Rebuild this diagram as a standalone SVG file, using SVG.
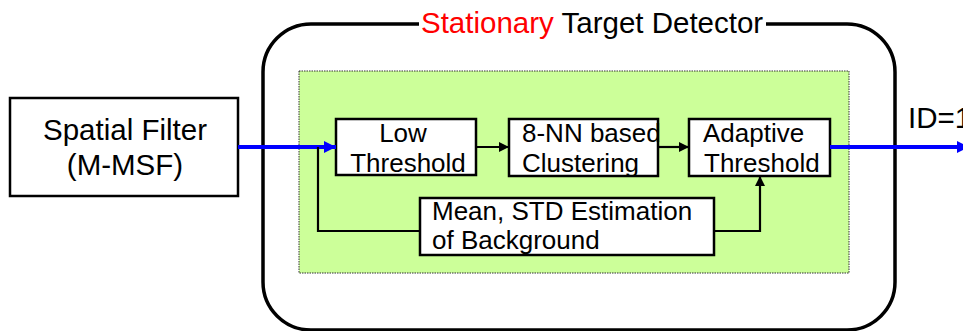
<svg xmlns="http://www.w3.org/2000/svg" width="963" height="331" viewBox="0 0 963 331">
<style>
  text { font-family: "Liberation Sans", Arial, sans-serif; fill: #000; }
  .big { font-size: 29.5px; }
  .mid { font-size: 26px; }
  .box { fill: #fff; stroke: #000; stroke-width: 2.5; }
  .blk { fill: none; stroke: #000; stroke-width: 2.2; }
  .blue { fill: none; stroke: #0000FF; stroke-width: 4; }
</style>
<defs>
  <marker id="ab" markerUnits="userSpaceOnUse" markerWidth="13" markerHeight="13" refX="12" refY="6" orient="auto">
    <path d="M0,0 L12,6 L0,12 z" fill="#0000FF"/>
  </marker>
  <marker id="ak" markerUnits="userSpaceOnUse" markerWidth="11" markerHeight="11" refX="10" refY="5" orient="auto">
    <path d="M0,0 L10,5 L0,10 z" fill="#000"/>
  </marker>
</defs>
<rect width="963" height="331" fill="#fff"/>

<g id="detector">
  <path d="M419,24 L311,24 A48,48 0 0 0 263,72 L263,282 A48,48 0 0 0 311,330 L847,330 A48,48 0 0 0 895,282 L895,72 A48,48 0 0 0 847,24 L766,24" fill="none" stroke="#000" stroke-width="3.5"/>
  <text class="big" x="421" y="33"><tspan fill="#FF0000">Stationary</tspan> Target Detector</text>
  <rect x="299" y="71" width="550" height="202" fill="#CCFF99" stroke="#333" stroke-width="1" stroke-dasharray="1.5 1"/>
</g>

<g id="spatial-filter">
  <rect class="box" x="10" y="98" width="228" height="98"/>
  <text class="big" x="125" y="140" text-anchor="middle">Spatial Filter</text>
  <text class="big" x="125" y="175" text-anchor="middle">(M-MSF)</text>
</g>

<g id="low-threshold">
  <rect class="box" x="336" y="119" width="140" height="56"/>
  <text class="mid" x="403" y="142" text-anchor="middle">Low</text>
  <text class="mid" x="408" y="172" text-anchor="middle">Threshold</text>
</g>

<g id="clustering">
  <rect class="box" x="509" y="119" width="149" height="57"/>
  <text class="mid" x="522" y="142">8-NN based</text>
  <text class="mid" x="522" y="172">Clustering</text>
</g>

<g id="adaptive-threshold">
  <rect class="box" x="689" y="119" width="141" height="57"/>
  <text class="mid" x="703" y="142">Adaptive</text>
  <text class="mid" x="704" y="172">Threshold</text>
</g>

<g id="mean-std">
  <rect class="box" x="420" y="198" width="294" height="57"/>
  <text class="mid" x="432" y="220">Mean, STD Estimation</text>
  <text class="mid" x="432" y="249">of Background</text>
</g>

<g id="connectors">
  <line class="blue" x1="238" y1="147" x2="336" y2="147" marker-end="url(#ab)"/>
  <polyline class="blk" points="318,147 318,231 420,231"/>
  <line class="blk" x1="476" y1="147" x2="509" y2="147" marker-end="url(#ak)"/>
  <line class="blk" x1="658" y1="147" x2="689" y2="147" marker-end="url(#ak)"/>
  <polyline class="blk" points="714,231 760,231 760,176" marker-end="url(#ak)"/>
  <line class="blue" x1="830" y1="147" x2="969" y2="147" marker-end="url(#ab)"/>
  <text class="big" x="908" y="128">ID=1</text>
</g>
</svg>
